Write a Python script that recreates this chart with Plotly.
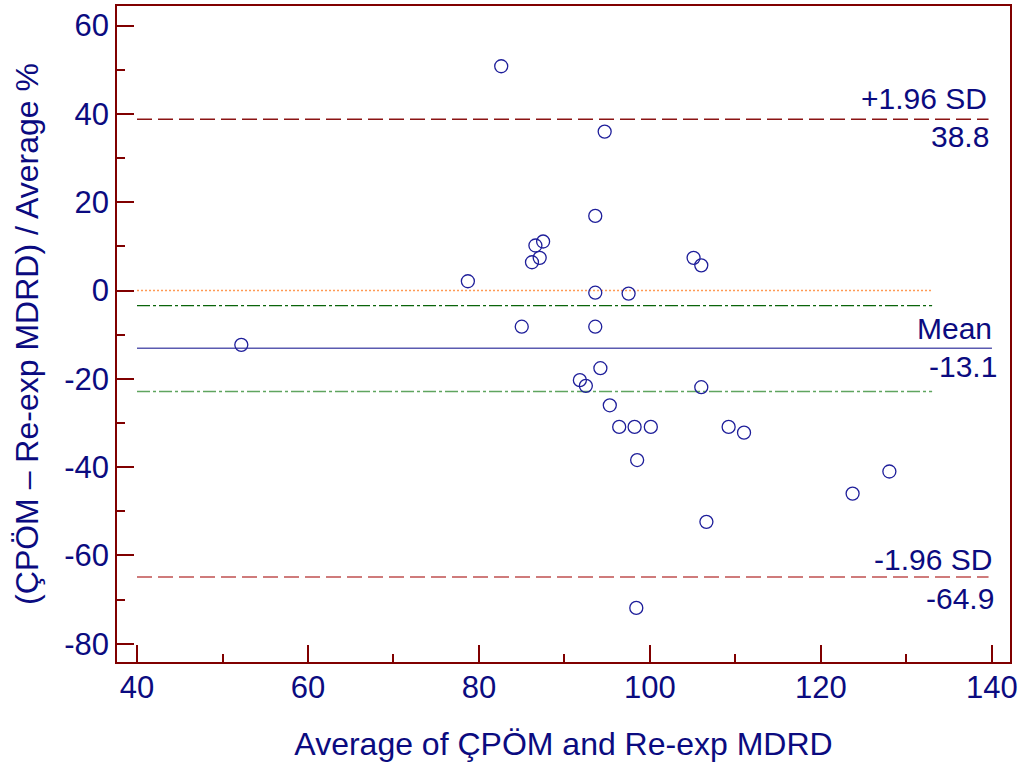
import plotly.graph_objects as go

# Data
avg_x = [82.6, 94.7, 93.6, 87.5, 86.6, 87.1, 86.2, 78.7, 93.6, 97.5,
         105.1, 106.0, 85.0, 93.6, 52.2, 94.2, 91.8, 92.5, 106.0, 95.3,
         96.4, 98.2, 100.1, 109.2, 111.0, 98.5, 128.0, 123.7, 106.6, 98.4]
diff_pct = [50.8, 36.0, 16.9, 11.1, 10.2, 7.4, 6.4, 2.1, -0.5, -0.7,
            7.4, 5.7, -8.2, -8.2, -12.3, -17.6, -20.3, -21.6, -21.9, -26.0,
            -30.9, -30.9, -30.9, -30.9, -32.2, -38.4, -41.0, -46.0, -52.4, -71.9]

mean_diff = -13.1
upper_loa = 38.8
lower_loa = -64.9
ci_mean_hi = -3.4
ci_mean_lo = -22.9
equality = 0.0

line_x_full = [40, 140]
line_x_loa = [40, 139.6]
line_x_short = [40, 133]

x_ticks = [40, 60, 80, 100, 120, 140]
x_tick_text = ["40", "60", "80", "100", "120", "140"]
y_ticks = [60, 40, 20, 0, -20, -40, -60, -80]
y_tick_text = ["60", "40", "20", "0", "-20", "-40", "-60", "-80"]

navy = "#0b0b80"
maroon = "#800000"
FONT = "Liberation Sans, Arial, sans-serif"

fig = go.Figure()

# Reference lines
fig.add_trace(go.Scatter(x=line_x_short, y=[equality, equality], mode="lines",
                         line=dict(color="#ff9a55", width=1.5, dash="2px,2px"),
                         hoverinfo="skip", showlegend=False))
fig.add_trace(go.Scatter(x=line_x_short, y=[ci_mean_hi, ci_mean_hi], mode="lines",
                         line=dict(color="#0a640a", width=1.3, dash="13px,3px,3px,3px"),
                         hoverinfo="skip", showlegend=False))
fig.add_trace(go.Scatter(x=line_x_short, y=[ci_mean_lo, ci_mean_lo], mode="lines",
                         line=dict(color="#5fa55f", width=1.5, dash="13px,3px,3px,3px"),
                         hoverinfo="skip", showlegend=False))
fig.add_trace(go.Scatter(x=line_x_full, y=[mean_diff, mean_diff], mode="lines",
                         line=dict(color="#5a5ab0", width=1.5),
                         hoverinfo="skip", showlegend=False))
fig.add_trace(go.Scatter(x=line_x_loa, y=[upper_loa, upper_loa], mode="lines",
                         line=dict(color="#8b1414", width=1.4, dash="15px,6px"),
                         hoverinfo="skip", showlegend=False))
fig.add_trace(go.Scatter(x=line_x_loa, y=[lower_loa, lower_loa], mode="lines",
                         line=dict(color="#c05050", width=1.5, dash="15px,6px"),
                         hoverinfo="skip", showlegend=False))

# Points
fig.add_trace(go.Scatter(x=avg_x, y=diff_pct, mode="markers",
                         marker=dict(symbol="circle-open", size=13,
                                     color="#1e1e9a", line=dict(width=1.3, color="#1e1e9a")),
                         showlegend=False))

ann_font = dict(family=FONT, size=30, color=navy)
labels = [
    ("+1.96 SD", upper_loa, 21, -3),
    (f"{upper_loa:.1f}", upper_loa, -17, -1),
    ("Mean", mean_diff, 20, 2),
    (f"{mean_diff:.1f}", mean_diff, -18, 7),
    ("-1.96 SD", lower_loa, 18, 2),
    (f"{lower_loa:.1f}", lower_loa, -21, 4),
]
for text, yv, ys, xs in labels:
    fig.add_annotation(x=140, y=yv, text=text, showarrow=False,
                       xanchor="right", yanchor="middle", yshift=ys, xshift=xs,
                       font=ann_font)

axis_common = dict(
    showgrid=False, zeroline=False, automargin=False,
    showline=True, linecolor=maroon, linewidth=1.5, mirror=True,
    ticks="inside", ticklen=17, tickwidth=1.5, tickcolor=maroon,
    tickfont=dict(family=FONT, size=31, color=navy),
    title_font=dict(family=FONT, size=32, color=navy),
)

fig.update_xaxes(range=[37.66, 142.11], tickmode="array",
                 tickvals=x_ticks, ticktext=x_tick_text,
                 ticklabelstandoff=-3,
                 minor=dict(ticks="inside", ticklen=8, tickwidth=1.5,
                            tickcolor=maroon, dtick=10, tick0=0),
                 title_text="Average of ÇPÖM and Re-exp MDRD",
                 title_standoff=29,
                 **axis_common)
fig.update_yaxes(range=[-84.15, 64.45], tickmode="array",
                 tickvals=y_ticks, ticktext=y_tick_text,
                 minor=dict(ticks="inside", ticklen=8, tickwidth=1.5,
                            tickcolor=maroon, dtick=10, tick0=0),
                 title_text="(ÇPÖM – Re-exp MDRD) / Average %",
                 title_standoff=16,
                 **axis_common)

fig.update_layout(
    width=1027, height=770,
    margin=dict(l=117, r=17, t=6, b=108),
    paper_bgcolor="white", plot_bgcolor="white",
    font=dict(family=FONT, color=navy),
)

fig.write_html("out.html", config={"displayModeBar": False},
               post_script="document.body.style.margin='0px';document.body.style.overflow='hidden';")
